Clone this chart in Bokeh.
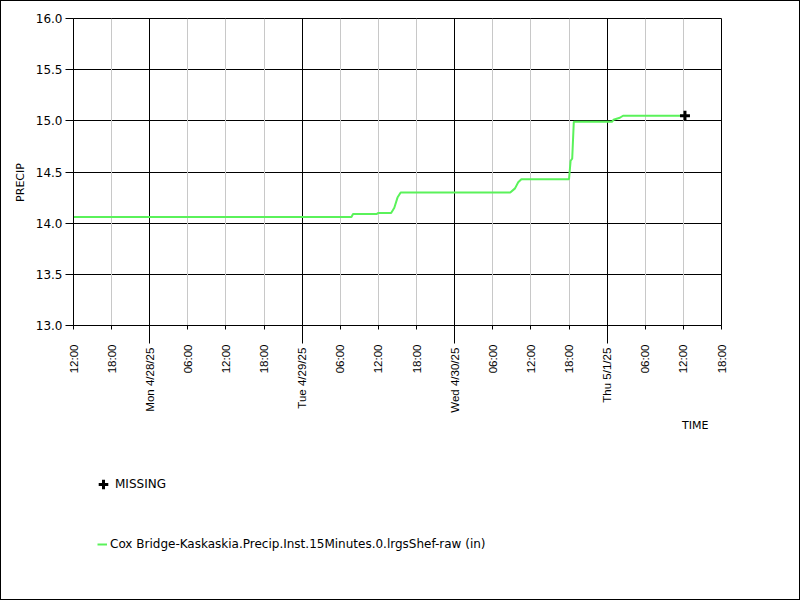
import math
import pandas as pd
from bokeh.plotting import figure
from bokeh.layouts import column
from bokeh.models import (Range1d, FixedTicker, CustomJSTickFormatter, NumeralTickFormatter,
                          Grid, Title, Legend, LegendItem)
from bokeh.embed import file_html
from bokeh.resources import INLINE

# ---- data ----
times = ["2025-04-27 12:00", "2025-04-29 07:45", "2025-04-29 08:00", "2025-04-29 11:45",
         "2025-04-29 12:00", "2025-04-29 14:00", "2025-04-29 14:30", "2025-04-29 15:00",
         "2025-04-29 15:30", "2025-04-30 08:45", "2025-04-30 09:30", "2025-04-30 10:00",
         "2025-04-30 10:30", "2025-04-30 18:00", "2025-04-30 18:15", "2025-04-30 18:30",
         "2025-04-30 18:45", "2025-05-01 00:45", "2025-05-01 01:00", "2025-05-01 02:00",
         "2025-05-01 02:30", "2025-05-01 12:15"]
precip = [14.06, 14.06, 14.09, 14.09, 14.10, 14.10, 14.15, 14.25,
          14.30, 14.30, 14.34, 14.40, 14.43, 14.43, 14.61, 14.63,
          14.99, 14.99, 15.01, 15.03, 15.05, 15.05]
missing_times = ["2025-05-01 12:15"]
missing_vals = [15.05]

tick_times = ["2025-04-27 12:00", "2025-04-27 18:00", "2025-04-28 00:00", "2025-04-28 06:00",
              "2025-04-28 12:00", "2025-04-28 18:00", "2025-04-29 00:00", "2025-04-29 06:00",
              "2025-04-29 12:00", "2025-04-29 18:00", "2025-04-30 00:00", "2025-04-30 06:00",
              "2025-04-30 12:00", "2025-04-30 18:00", "2025-05-01 00:00", "2025-05-01 06:00",
              "2025-05-01 12:00", "2025-05-01 18:00"]
tick_labels = ["12:00", "18:00", "Mon 4/28/25", "06:00", "12:00", "18:00", "Tue 4/29/25", "06:00",
               "12:00", "18:00", "Wed 4/30/25", "06:00", "12:00", "18:00", "Thu 5/1/25", "06:00",
               "12:00", "18:00"]
y_ticks = [13.0, 13.5, 14.0, 14.5, 15.0, 15.5, 16.0]
x_title = "TIME"
y_title = "PRECIP"
series_name = "Cox Bridge-Kaskaskia.Precip.Inst.15Minutes.0.lrgsShef-raw (in)"
missing_name = "MISSING"

# ---- build ----
def ms(s):
    return pd.Timestamp(s).value // 10**6

t = pd.to_datetime(times)
mt = pd.to_datetime(missing_times)
tick_ms = [ms(s) for s in tick_times]
midnight_ms = [ms(s) for s in tick_times if s.endswith("00:00")]
other_ms = [v for v in tick_ms if v not in midnight_ms]
labels_padded = [(lab + "\u00a0") if " " in lab else lab for lab in tick_labels]

LINE_COLOR = "#5af25a"
W = 798
H_MAIN = 449
H_LEG = 149

p = figure(width=W, height=H_MAIN, x_axis_type="datetime", output_backend="svg",
           toolbar_location=None, min_border_left=72, min_border_right=78,
           min_border_top=17, min_border_bottom=H_MAIN - 17 - 307,
           x_range=Range1d(pd.Timestamp(tick_times[0]), pd.Timestamp(tick_times[-1])),
           y_range=Range1d(13.0, 16.0))
p.background_fill_color = "white"
p.border_fill_color = "white"
p.outline_line_color = "black"
p.outline_line_width = 1

# grids
p.xgrid.visible = False
p.ygrid.grid_line_color = "black"
p.ygrid.ticker = FixedTicker(ticks=y_ticks)
p.add_layout(Grid(dimension=0, ticker=FixedTicker(ticks=other_ms), grid_line_color="#c8c8c8"))
p.add_layout(Grid(dimension=0, ticker=FixedTicker(ticks=midnight_ms), grid_line_color="black"))

# x axis
xa = p.xaxis[0]
xa.ticker = FixedTicker(ticks=tick_ms, minor_ticks=midnight_ms)
xa.formatter = CustomJSTickFormatter(args=dict(tvals=tick_ms, tlabs=labels_padded),
                                     code="const i = tvals.indexOf(tick); return i >= 0 ? tlabs[i] : '';")
xa.major_label_orientation = math.pi / 2
xa.major_label_text_font = "Liberation Sans"
xa.major_label_text_font_size = "11.5px"
xa.major_label_text_color = "black"
xa.major_label_standoff = 1
xa.major_tick_in = 0
xa.major_tick_out = 4
xa.minor_tick_in = 0
xa.minor_tick_out = 18
xa.major_tick_line_color = "black"
xa.minor_tick_line_color = "black"
xa.axis_line_color = "black"

# y axis
ya = p.yaxis[0]
ya.ticker = FixedTicker(ticks=y_ticks)
ya.formatter = NumeralTickFormatter(format="0.0")
ya.major_label_text_font = "DejaVu Sans"
ya.major_label_text_font_size = "12px"
ya.major_label_text_color = "black"
ya.major_label_standoff = 3
ya.major_tick_in = 0
ya.major_tick_out = 8
ya.minor_tick_line_color = None
ya.major_tick_line_color = "black"
ya.axis_line_color = "black"
ya.axis_label = y_title + "\u00a0" * 6
ya.axis_label_text_font = "DejaVu Sans"
ya.axis_label_text_font_size = "11px"
ya.axis_label_text_font_style = "normal"
ya.axis_label_text_color = "black"
ya.axis_label_standoff = 6

# data
p.line(t, precip, line_color=LINE_COLOR, line_width=2)
p.scatter(mt, missing_vals, marker="cross", size=10, line_width=3, line_color="black")

# x title
p.add_layout(Title(text=x_title, align="right", offset=13, standoff=2,
                   text_font="DejaVu Sans", text_font_size="11px", text_font_style="normal",
                   text_color="black"), "below")

# legend figure (same series, drawn outside its visible range; only the legend shows)
q = figure(width=W, height=H_LEG, output_backend="svg", toolbar_location=None,
           x_axis_type=None, y_axis_type=None, min_border=0,
           x_range=Range1d(0, 1), y_range=Range1d(0, 1))
q.outline_line_color = None
q.background_fill_color = "white"
q.border_fill_color = "white"
q.xgrid.visible = False
q.ygrid.visible = False
leg_line = q.line(t, precip, line_color=LINE_COLOR, line_width=2)
leg_miss = q.scatter(mt, missing_vals, marker="cross", size=10, line_width=3, line_color="black")

common = dict(orientation="vertical", padding=0, margin=0, label_text_font="DejaVu Sans",
              label_text_font_size="12px", label_text_color="black",
              border_line_alpha=0, background_fill_alpha=0)
leg_a = Legend(items=[LegendItem(label=missing_name, renderers=[leg_miss])],
               location=(18, 103), glyph_width=24, glyph_height=24, label_height=24,
               label_standoff=-8, **common)
leg_b = Legend(items=[LegendItem(label=series_name, renderers=[leg_line])],
               location=(24, 45), glyph_width=10, glyph_height=20, label_height=20,
               label_standoff=3, **common)
q.add_layout(leg_a, "center")
q.add_layout(leg_b, "center")

layout = column(p, q, spacing=0, styles={"border": "1px solid black"})

open("out.html", "w").write(file_html(layout, INLINE))
